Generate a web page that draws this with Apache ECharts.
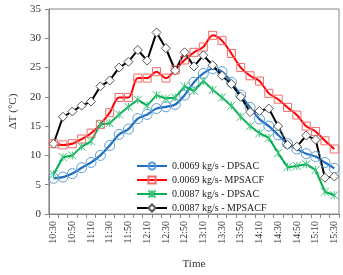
<!DOCTYPE html>
<html>
<head>
<meta charset="utf-8">
<script src="https://cdn.jsdelivr.net/npm/echarts@6/dist/echarts.min.js"></script>
<style>
  html, body { margin: 0; padding: 0; background: #fff; }
  #main { width: 343px; height: 275px; }
</style>
</head>
<body>
<div id="main"></div>
<script>
// times, every 10 minutes
var times = ["10:30","10:40","10:50","11:00","11:10","11:20","11:30","11:40","11:50","12:00",
  "12:10","12:20","12:30","12:40","12:50","13:00","13:10","13:20","13:30","13:40",
  "13:50","14:00","14:10","14:20","14:30","14:40","14:50","15:00","15:10","15:20","15:30"];

var names = ["0.0069 kg/s - DPSAC", "0.0069 kg/s- MPSACF", "0.0087 kg/s - DPSAC", "0.0087 kg/s - MPSACF"];

var dpsac69 = [6.1, 6.3, 6.9, 7.9, 8.8, 10.0, 11.7, 13.6, 14.5, 16.3,
  17.0, 18.0, 18.3, 18.7, 20.3, 22.5, 24.0, 24.8, 24.3, 22.5,
  20.3, 18.2, 16.2, 15.0, 13.5, 12.0, 11.1, 10.3, 9.8, 8.8, 7.8];

var mpsacf69 = [12.0, 11.8, 12.0, 12.8, 13.8, 15.3, 17.3, 19.9, 19.9, 23.2,
  23.2, 24.3, 23.2, 24.6, 26.3, 27.6, 28.5, 30.5, 29.6, 27.4,
  25.0, 23.6, 22.7, 20.6, 19.6, 18.2, 16.9, 15.0, 14.1, 12.5, 11.1];

var dpsac87 = [6.8, 9.7, 10.0, 11.5, 12.4, 15.3, 15.5, 17.0, 18.3, 19.5,
  18.5, 20.3, 19.7, 19.9, 21.8, 21.0, 22.7, 21.2, 19.9, 18.5,
  16.6, 15.0, 13.8, 13.0, 10.4, 8.0, 8.2, 8.5, 7.5, 3.8, 3.2];

var mpsacf87 = [12.0, 16.6, 17.5, 18.5, 19.2, 21.8, 22.8, 25.0, 26.0, 28.0,
  26.2, 31.0, 28.3, 24.5, 27.6, 25.2, 27.1, 25.4, 23.6, 22.2,
  20.0, 17.4, 17.6, 18.0, 15.0, 11.8, 11.5, 13.4, 12.7, 6.2, 6.4];

var font = "Liberation Serif";

var myChart = echarts.init(document.getElementById("main"));
myChart.setOption({
  animation: false,
  textStyle: { fontFamily: font },
  grid: {
    show: true,
    left: 40,
    right: 4,
    top: 9,
    bottom: 55,
    borderColor: "#868686",
    borderWidth: 1
  },
  legend: {
    orient: "vertical",
    left: 131,
    top: 156,
    itemWidth: 30,
    itemHeight: 9,
    itemGap: 4,
    textStyle: { fontFamily: font, fontSize: 10, color: "#222" },
    data: names
  },
  xAxis: {
    type: "category",
    data: times,
    name: "Time",
    nameLocation: "middle",
    nameGap: 45,
    nameTextStyle: { fontFamily: font, fontSize: 11, color: "#333" },
    axisLine: { lineStyle: { color: "#868686" } },
    axisTick: { show: true, interval: 0, length: 4, lineStyle: { color: "#868686" } },
    axisLabel: { interval: 1, rotate: 90, margin: 7, fontSize: 10, color: "#333", fontFamily: font },
    splitLine: { show: false }
  },
  yAxis: {
    type: "value",
    min: 0,
    max: 35,
    interval: 5,
    name: "ΔT (°C)",
    nameLocation: "middle",
    nameGap: 27,
    nameTextStyle: { fontFamily: font, fontSize: 11, color: "#333" },
    axisLine: { show: true, lineStyle: { color: "#868686" } },
    axisTick: { show: true, length: 4, lineStyle: { color: "#868686" } },
    axisLabel: { margin: 8, fontSize: 11, color: "#333", fontFamily: font },
    splitLine: { show: false }
  },
  series: [
    {
      name: names[0],
      type: "line",
      data: dpsac69,
      smooth: 0.3,
      showAllSymbol: true,
      symbol: "circle",
      symbolSize: 10,
      lineStyle: { color: "#1f6fc0", width: 2.2 },
      itemStyle: { color: "rgba(255,255,255,0)", borderColor: "#5b9bd5", borderWidth: 1 }
    },
    {
      name: names[1],
      type: "line",
      data: mpsacf69,
      smooth: 0.3,
      showAllSymbol: true,
      symbol: "rect",
      symbolSize: 8,
      lineStyle: { color: "#ff0000", width: 2 },
      itemStyle: { color: "rgba(255,255,255,0)", borderColor: "#f46a6a", borderWidth: 1 }
    },
    {
      name: names[2],
      type: "line",
      data: dpsac87,
      showAllSymbol: true,
      symbol: "path://M0,0 L10,10 M10,0 L0,10 M5,0 L5,10",
      symbolSize: 8,
      lineStyle: { color: "#00b050", width: 2 },
      itemStyle: { color: "rgba(255,255,255,0)", borderColor: "#3cc07a", borderWidth: 1 }
    },
    {
      name: names[3],
      type: "line",
      data: mpsacf87,
      showAllSymbol: true,
      symbol: "diamond",
      symbolSize: 9,
      lineStyle: { color: "#000000", width: 2 },
      itemStyle: { color: "#ffffff", borderColor: "#555555", borderWidth: 1 }
    }
  ]
});
</script>
</body>
</html>
